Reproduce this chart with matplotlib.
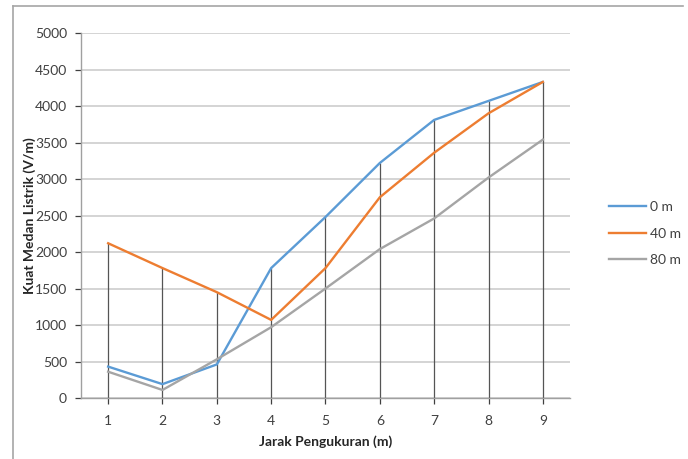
import matplotlib
matplotlib.use("Agg")
import matplotlib.pyplot as plt
from matplotlib.lines import Line2D
import numpy as np

plt.rcParams['font.family'] = ['Lato', 'DejaVu Sans']

jarak = [1, 2, 3, 4, 5, 6, 7, 8, 9]
seri_0m = [430, 190, 460, 1780, 2480, 3220, 3810, 4070, 4330]
seri_40m = [2120, 1780, 1450, 1070, 1780, 2750, 3360, 3900, 4330]
seri_80m = [360, 110, 530, 970, 1500, 2040, 2460, 3020, 3540]
label_seri = ['0 m', '40 m', '80 m']
warna = ['#5B9BD5', '#ED7D31', '#A5A5A5']

fig = plt.figure(figsize=(6.88, 4.59), dpi=100)
ax = fig.add_axes([0.1177, 0.1329, 0.7108, 0.7951])

# garis bantu horizontal
ax.set_ylim(0, 5000)
ax.set_xlim(0.5, 9.5)
ax.set_yticks(np.arange(0, 5001, 500))
ax.grid(axis='y', color='#d4d4d4', linewidth=1.4)
ax.set_axisbelow(True)

# drop lines ke sumbu x
puncak = np.max([seri_0m, seri_40m, seri_80m], axis=0)
ax.vlines(jarak, 0, puncak, color='#555555', linewidth=0.9, zorder=2)

for data, lab, w in zip([seri_0m, seri_40m, seri_80m], label_seri, warna):
    ax.plot(jarak, data, color=w, linewidth=1.7, label=lab, zorder=3)

ax.set_xticks(jarak)
ax.tick_params(axis='both', labelsize=10, colors='#404040', length=4, width=0.9)
ax.tick_params(axis='x', pad=8)
ax.tick_params(axis='y', pad=6)
for t in ax.get_xticklines() + ax.get_yticklines():
    t.set_color('#a0a0a0')

for s in ['top', 'right']:
    ax.spines[s].set_visible(False)
for s in ['left', 'bottom']:
    ax.spines[s].set_color('#a0a0a0')
    ax.spines[s].set_linewidth(1.0)

ax.set_xlabel('Jarak Pengukuran (m)', fontsize=10, fontweight='bold', color='#262626', labelpad=6)
ax.set_ylabel('Kuat Medan Listrik (V/m)', fontsize=10, fontweight='bold', color='#262626')
ax.yaxis.set_label_coords(-0.092, 0.5)

leg = ax.legend(loc='center left', bbox_to_anchor=(1.055, 0.45), frameon=False,
                fontsize=10, handlelength=2.6, labelspacing=1.05, handletextpad=0.3)
for t in leg.get_texts():
    t.set_color('#404040')

# bingkai luar
fig.add_artist(Line2D([13 / 688, 683 / 688], [1 - 6 / 459, 1 - 6 / 459],
                      transform=fig.transFigure, color='#a6a6a6', linewidth=1.2))
fig.add_artist(Line2D([13 / 688, 13 / 688], [0, 1 - 6 / 459],
                      transform=fig.transFigure, color='#a6a6a6', linewidth=1.2))

fig.savefig('out.png', dpi=100)
